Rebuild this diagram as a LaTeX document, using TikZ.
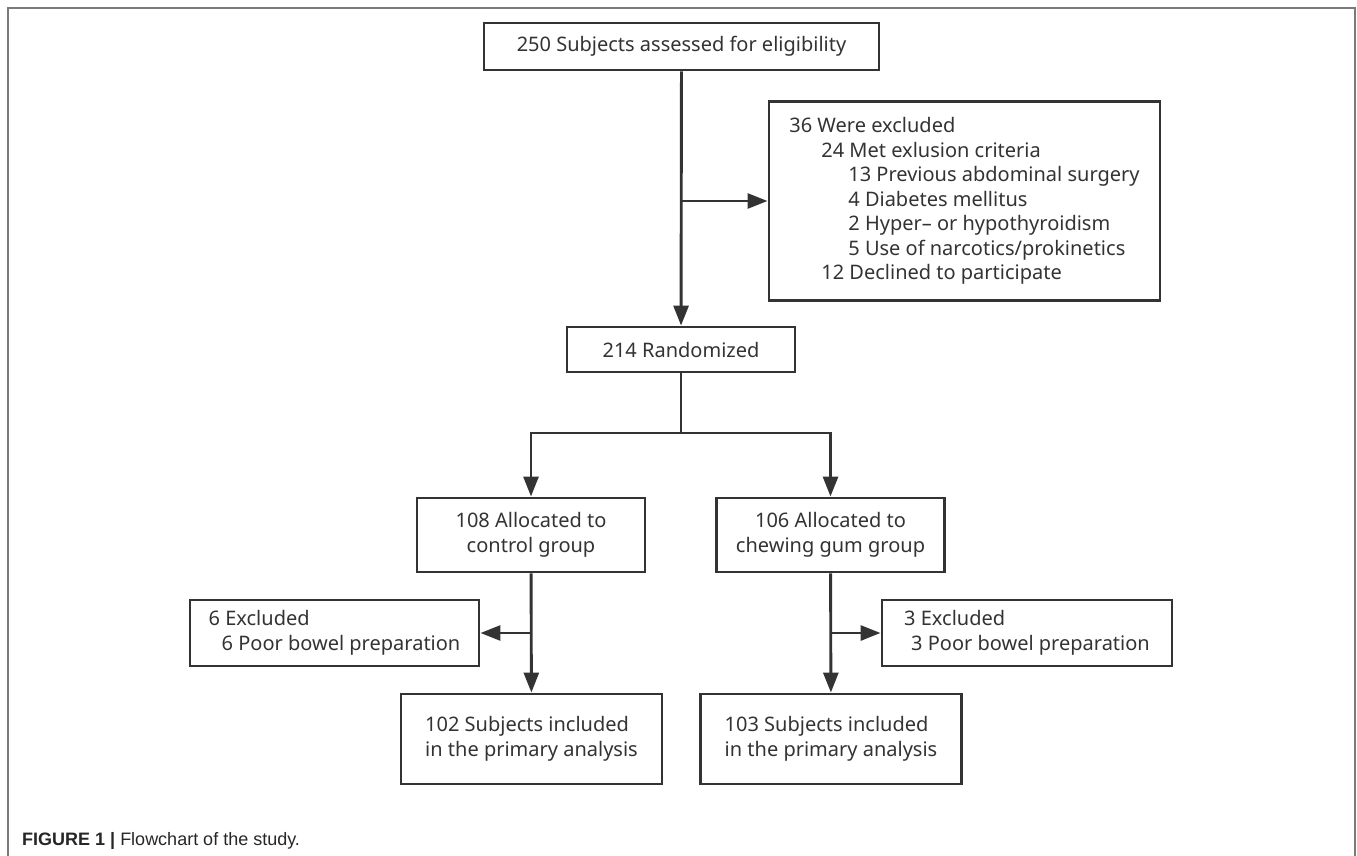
\documentclass[tikz,border=0pt]{standalone}
\usepackage{fontspec}
\setmainfont{Noto Sans}
\newfontfamily\capfont{Liberation Sans}
\usepackage{xcolor}
\usepackage{tikz}
\usetikzlibrary{positioning}
\usetikzlibrary{arrows.meta,shapes}
\usetikzlibrary{calc}
\definecolor{linegray}{HTML}{333333}
\definecolor{framegray}{HTML}{7A7A7A}
\tikzstyle{block}=[rectangle,draw=linegray,line width=2.9pt,fill=white,inner sep=0pt,font=\fontsize{20}{24.5}\selectfont,text=linegray]
\tikzstyle{listblock}=[block,align=left]
\tikzstyle{edge} = [draw=linegray,line width=2.9pt,-{Triangle[length=20pt,width=15pt]}]
\tikzstyle{undirectededge} = [draw=linegray,line width=2.9pt]

\begin{document}
\begin{tikzpicture}[x=1pt,y=-1pt]
    \useasboundingbox (0,0) rectangle (1357,856);
    % frame of the figure
    \draw[framegray,line width=2pt] (8,856) -- (8,8) -- (1355,8) -- (1355,856);

    % First we draw the boxes
    \node[block,minimum width=395pt,minimum height=47pt] (assessed) at (681.5,46.5) {250 Subjects assessed for eligibility};
    \node[listblock,minimum width=391pt,minimum height=199pt] (excl) at (964.5,201) {36 Were excluded\\
        \hspace*{32pt}24 Met exlusion criteria\\
        \hspace*{59pt}13 Previous abdominal surgery\\
        \hspace*{59pt}4 Diabetes mellitus\\
        \hspace*{59pt}2 Hyper-- or hypothyroidism\\
        \hspace*{59pt}5 Use of narcotics/prokinetics\\
        \hspace*{32pt}12 Declined to participate};
    \node[block,minimum width=228pt,minimum height=45pt] (rand) at (681,349.5) {214 Randomized};

    \foreach \pos/\name/\txt in {{(531,535)/allocC/108 Allocated to\\control group},
    {(830.5,535)/allocG/106 Allocated to\\chewing gum group}}
        \node[block,align=center,minimum width=228pt,minimum height=74pt] (\name) at \pos {\txt};

    \node[listblock,minimum width=289pt,minimum height=66pt] (exC) at (334.5,633) {6 Excluded\\\hspace*{13pt}6 Poor bowel preparation};
    \node[listblock,minimum width=290pt,minimum height=66pt] (exG) at (1027,633) {3 Excluded\\\hspace*{7pt}3 Poor bowel preparation};

    \foreach \pos/\name/\num in {{(531.5,739)/finC/102}, {(831,739)/finG/103}}
        \node[block,align=left,minimum width=261pt,minimum height=90pt] (\name) at \pos {\num{} Subjects included\\in the primary analysis};

    % Connect boxes with arrows
    \path[edge] (assessed) -- (rand);
    \coordinate (split) at (assessed.south |- excl.west);
    \coordinate (fork) at (681,433);
    \coordinate (brC) at (allocC.south |- exC.east);
    \coordinate (brG) at (allocG.south |- exG.west);
    \path[edge] (split) -- (excl);
    \path[undirectededge] (rand) -- (fork);
    \path[edge] (fork) -| (allocC);
    \path[edge] (fork) -| (allocG);
    \path[edge] (allocC) -- (finC);
    \path[edge] (allocG) -- (finG);
    \path[edge] (brC) -- (exC);
    \path[edge] (brG) -- (exG);

    \node[anchor=base west,inner sep=0pt,font=\capfont\fontsize{18}{20}\selectfont,text=black!85] (caption) at (22,845) {\textbf{FIGURE 1 |} Flowchart of the study.};
\end{tikzpicture}
\end{document}
